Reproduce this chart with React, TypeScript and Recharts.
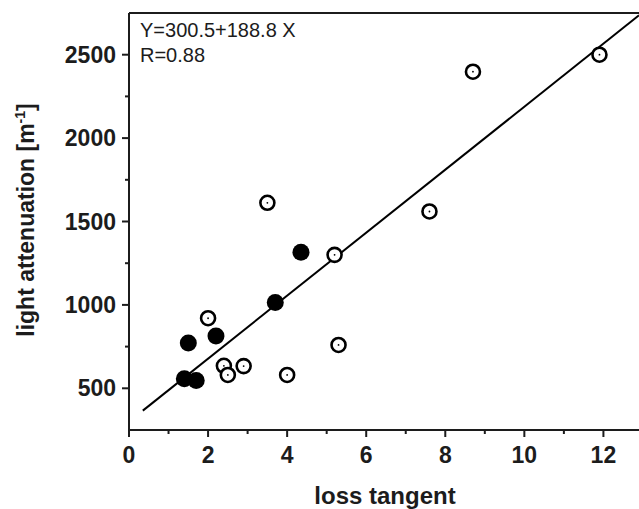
import React from "react";
import {
  ScatterChart,
  Scatter,
  XAxis,
  YAxis,
  ReferenceLine,
} from "recharts";

// open circles (dotted markers)
const openPoints = [
  { x: 2.0, y: 920 },
  { x: 2.4, y: 635 },
  { x: 2.5, y: 580 },
  { x: 2.9, y: 633 },
  { x: 4.0, y: 580 },
  { x: 5.3, y: 760 },
  { x: 5.2, y: 1300 },
  { x: 3.5, y: 1612 },
  { x: 7.6, y: 1560 },
  { x: 8.7, y: 2398 },
  { x: 11.9, y: 2500 },
];

// filled circles
const filledPoints = [
  { x: 1.4, y: 557 },
  { x: 1.7, y: 547 },
  { x: 1.5, y: 771 },
  { x: 2.2, y: 814 },
  { x: 3.7, y: 1014 },
  { x: 4.35, y: 1315 },
];

// linear fit end points, Y=300.5+188.8 X
const fitLine = [
  { x: 0.35, y: 366 },
  { x: 12.9, y: 2736 },
];

const xTicks = [0, 1, 2, 3, 4, 5, 6, 7, 8, 9, 10, 11, 12];
const yTicks = [500, 750, 1000, 1250, 1500, 1750, 2000, 2250, 2500];

const INK = "#1c1c1c";
const FONT = "'Liberation Sans', Arial, sans-serif";

const XTick = (props: any) => {
  const { x, y, payload } = props;
  const major = payload.value % 2 === 0;
  return (
    <g>
      <line x1={x} x2={x} y1={y} y2={y + (major ? 7 : 4)} stroke={INK} strokeWidth={2} />
      {major && (
        <text x={x} y={y + 33} textAnchor="middle" fontSize={23} fontWeight="bold" fill={INK} fontFamily={FONT}>
          {payload.value}
        </text>
      )}
    </g>
  );
};

const YTick = (props: any) => {
  const { x, y, payload } = props;
  const major = payload.value % 500 === 0;
  return (
    <g>
      <line x1={x - (major ? 7 : 4)} x2={x} y1={y} y2={y} stroke={INK} strokeWidth={2} />
      {major && (
        <text x={x - 13} y={y + 8} textAnchor="end" fontSize={23} fontWeight="bold" fill={INK} fontFamily={FONT}>
          {payload.value}
        </text>
      )}
    </g>
  );
};

const FilledDot = (p: any) => <circle cx={p.cx} cy={p.cy} r={8.5} fill="#000" />;

const OpenDot = (p: any) => (
  <g>
    <circle cx={p.cx} cy={p.cy} r={7} fill="#fff" stroke="#000" strokeWidth={2.6} />
    <circle cx={p.cx} cy={p.cy} r={0.9} fill="#000" />
  </g>
);

const App: React.FC = () => {
  return (
    <div style={{ position: "absolute", left: 0, top: 0, width: 639, height: 509, background: "#fff" }}>
      <ScatterChart width={639} height={509} margin={{ top: 13, right: 0, left: 0, bottom: 0 }}>
        <XAxis
          dataKey="x"
          type="number"
          domain={[0, 12.9]}
          ticks={xTicks}
          allowDataOverflow
          height={79}
          tickSize={0}
          tickMargin={0}
          tick={<XTick />}
          axisLine={{ stroke: INK, strokeWidth: 2 }}
          label={{
            content: () => (
              <text x={385} y={504} textAnchor="middle" fontSize={24} fontWeight="bold" fill={INK} fontFamily={FONT}>
                loss tangent
              </text>
            ),
          }}
        />
        <YAxis
          dataKey="y"
          type="number"
          domain={[250, 2750]}
          ticks={yTicks}
          allowDataOverflow
          width={129}
          tickSize={0}
          tickMargin={0}
          tick={<YTick />}
          axisLine={{ stroke: INK, strokeWidth: 2 }}
          label={{
            content: () => (
              <text
                transform="translate(34,220) rotate(-90)"
                textAnchor="middle"
                fontSize={23}
                fontWeight="bold"
                fill={INK}
                fontFamily={FONT}
              >
                light attenuation [m
                <tspan dy={-9} fontSize={14}>-1</tspan>
                <tspan dy={9}>]</tspan>
              </text>
            ),
          }}
        />
        <ReferenceLine
          y={2750}
          stroke={INK}
          strokeWidth={2}
          label={{
            content: () => (
              <g fontFamily={FONT} fontSize={20} fill={INK}>
                <text x={140} y={37}>Y=300.5+188.8 X</text>
                <text x={140} y={62}>R=0.88</text>
              </g>
            ),
          }}
        />
        <Scatter
          data={fitLine}
          line={{ stroke: "#000", strokeWidth: 2 }}
          shape={() => <g />}
          isAnimationActive={false}
        />
        <Scatter data={openPoints} shape={<OpenDot />} isAnimationActive={false} />
        <Scatter data={filledPoints} shape={<FilledDot />} isAnimationActive={false} />
      </ScatterChart>
    </div>
  );
};

export default App;
